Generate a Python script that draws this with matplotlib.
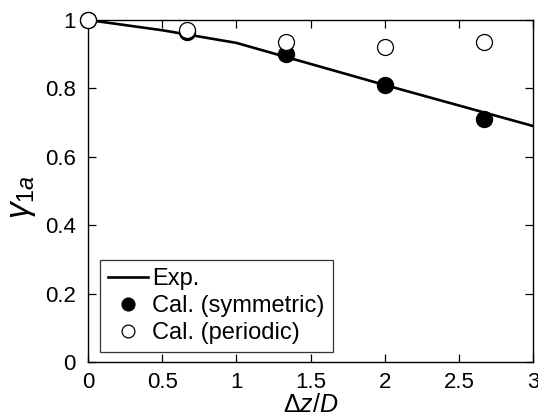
import matplotlib
matplotlib.use('Agg')
import matplotlib.pyplot as plt

# experimental curve
exp_x = [0, 0.5, 1.0, 2.0, 3.0]
exp_y = [1.0, 0.97, 0.933, 0.81, 0.69]

# calculations
cal_x = [0, 0.667, 1.333, 2.0, 2.667]
sym_y = [1.0, 0.965, 0.90, 0.81, 0.71]
per_y = [1.0, 0.971, 0.936, 0.921, 0.936]

xticks = [0, 0.5, 1, 1.5, 2, 2.5, 3]
xtick_labels = ['0', '0.5', '1', '1.5', '2', '2.5', '3']
yticks = [0, 0.2, 0.4, 0.6, 0.8, 1]
ytick_labels = ['0', '0.2', '0.4', '0.6', '0.8', '1']

plt.rcParams['font.family'] = ['Liberation Sans', 'DejaVu Sans']
plt.rcParams['mathtext.fontset'] = 'custom'
plt.rcParams['mathtext.rm'] = 'Liberation Sans'
plt.rcParams['mathtext.it'] = 'Liberation Sans:italic'

fig = plt.figure(figsize=(5.38, 4.16), dpi=100)
ax = fig.add_axes([0.1636, 0.1298, 0.8271, 0.8222])

ax.plot(exp_x, exp_y, color='black', lw=1.9, label='Exp.')
ax.plot(cal_x, sym_y, 'o', ms=11.5, mfc='black', mec='black', clip_on=False, zorder=3,
        label='Cal. (symmetric)')
ax.plot(cal_x, per_y, 'o', ms=11.5, mfc='white', mec='black', mew=0.9, clip_on=False, zorder=4,
        label='Cal. (periodic)')

ax.set_xlim(0, 3)
ax.set_ylim(0, 1)
ax.set_xticks(xticks)
ax.set_xticklabels(xtick_labels)
ax.set_yticks(yticks)
ax.set_yticklabels(ytick_labels)
ax.tick_params(direction='in', top=True, right=True, length=6, width=0.9, labelsize=16)
ax.tick_params(axis='y', pad=9)
ax.tick_params(axis='x', pad=7)
for s in ax.spines.values():
    s.set_linewidth(1.0)

ax.set_xlabel(r'$\Delta z/D$', fontsize=18)
ax.xaxis.set_label_coords(0.5, -0.09)
ax.set_ylabel(r'$\gamma_{1a}$', fontsize=24)
ax.yaxis.set_label_coords(-0.112, 0.482)

leg = ax.legend(loc='lower left', bbox_to_anchor=(0.027, 0.029), fontsize=17, frameon=True,
                fancybox=False, edgecolor='black', handlelength=1.7, handletextpad=0.15,
                borderpad=0.35, labelspacing=0.2, markerscale=0.8, borderaxespad=0)
leg.get_frame().set_linewidth(0.9)

fig.savefig('out.png', dpi=100)
